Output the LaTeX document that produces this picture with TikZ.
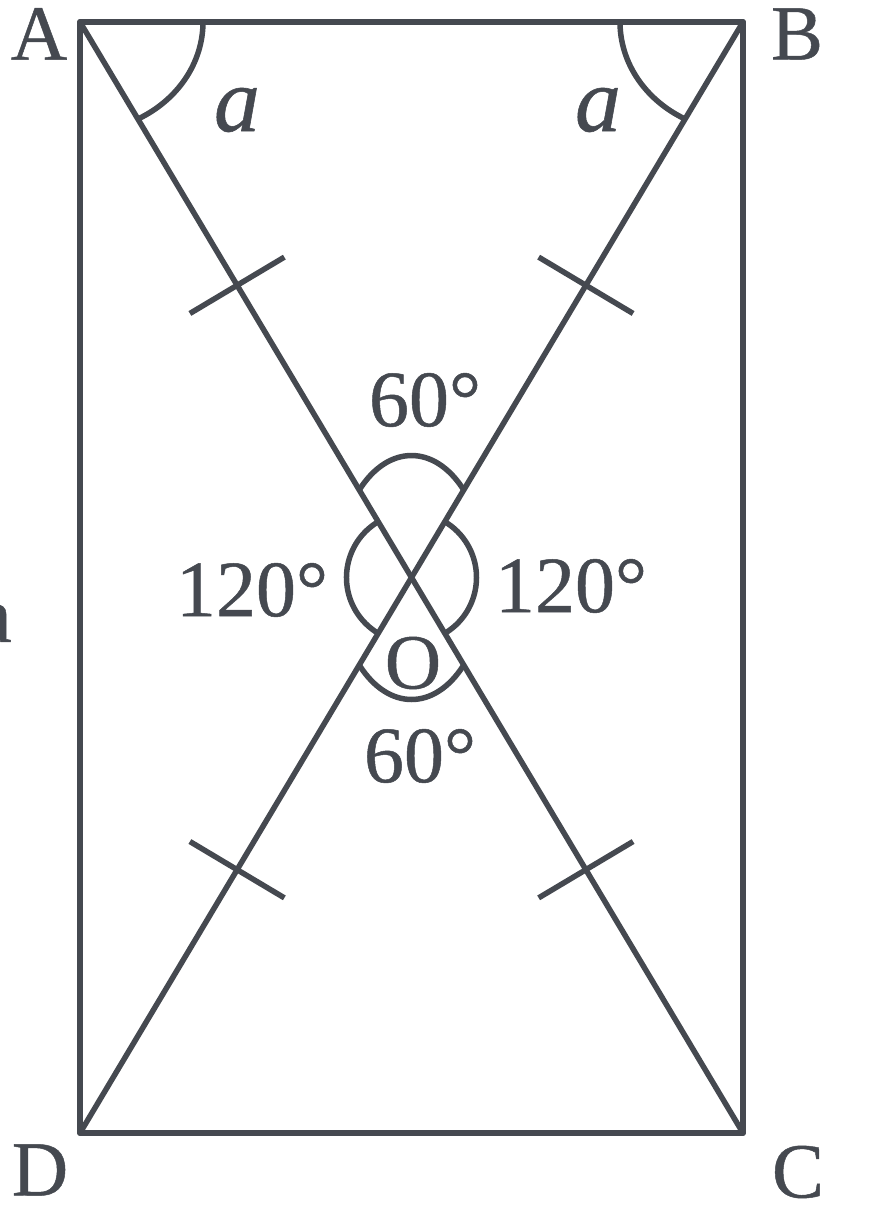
\documentclass[tikz,border=0pt]{standalone}
\usepackage{fontspec}
\setmainfont{Liberation Serif}[FakeBold=0.6]
\usetikzlibrary{calc}
\definecolor{geogray}{RGB}{69,73,80}
\tikzset{
    rectline/.style={draw=geogray, line width=6pt, line join=round, line cap=round},
    diag/.style={draw=geogray, line width=5.5pt, line cap=round},
    anglemark/.style={draw=geogray, line width=5.5pt},
    tickmark/.style={draw=geogray, line width=5.5pt},
    vertexlabel/.style={text=geogray, font=\fontsize{78}{90}\selectfont, inner sep=0pt},
    anglelabel/.style={text=geogray, font=\fontsize{80}{92}\selectfont, inner sep=0pt},
    varlabel/.style={text=geogray, font=\fontsize{92}{100}\selectfont\itshape, inner sep=0pt},
}
\begin{document}
\begin{tikzpicture}[x=1pt, y=1pt]
    \useasboundingbox (0,0) rectangle (879,1216);
    \coordinate (A) at (80,1194);
    \coordinate (B) at (743,1194);
    \coordinate (C) at (743,83);
    \coordinate (D) at (80,83);
    \coordinate (O) at (intersection of A--C and B--D);

    \draw[rectline] (A) -- (B) -- (C) -- (D) -- cycle;
    \draw[diag] (A) -- (C);
    \draw[diag] (B) -- (D);

    \draw[anglemark] ($(A)+(123,0)$) arc[start angle=0, end angle=-61.9, x radius=123pt, y radius=110pt];
    \draw[anglemark] ($(B)+(-123,0)$) arc[start angle=180, end angle=241.9, x radius=123pt, y radius=110pt];
    \draw[anglemark] (O) ++(45.9:75pt and 122pt) arc[start angle=45.9, end angle=134.1, x radius=75pt, y radius=122pt];
    \draw[anglemark] (O) ++(225.9:75pt and 122pt) arc[start angle=225.9, end angle=314.1, x radius=75pt, y radius=122pt];
    \draw[anglemark] (O) ++(120.8:65pt) arc[start angle=120.8, end angle=239.2, radius=65pt];
    \draw[anglemark] (O) ++(-59.2:65pt) arc[start angle=-59.2, end angle=59.2, radius=65pt];

    \foreach \v in {A,B,C,D}{
        \coordinate (t\v) at ($(\v)!0.474!(O)$);
        \draw[tickmark] ($(t\v)!55pt!90:(\v)$) -- ($(t\v)!55pt!-90:(\v)$);
    }

    \node[vertexlabel] (labA) at (39,1182) {A};
    \node[vertexlabel] (labB) at (797,1182) {B};
    \node[vertexlabel] (labC) at (798,44) {C};
    \node[vertexlabel] (labD) at (40,46) {D};
    \node[vertexlabel] (labO) at (413,553) {O};
    \node[varlabel] (angA) at (237,1106) {a};
    \node[varlabel] (angB) at (598,1106) {a};
    \node[anglelabel] (topangle) at (425,816) {60°};
    \node[anglelabel] (botangle) at (420,460) {60°};
    \node[anglelabel] (leftangle) at (252,626) {120°};
    \node[anglelabel] (rightangle) at (571,630) {120°};
    \node[anglelabel, anchor=base east] (sidecut) at (12,574) {a};
\end{tikzpicture}
\end{document}
